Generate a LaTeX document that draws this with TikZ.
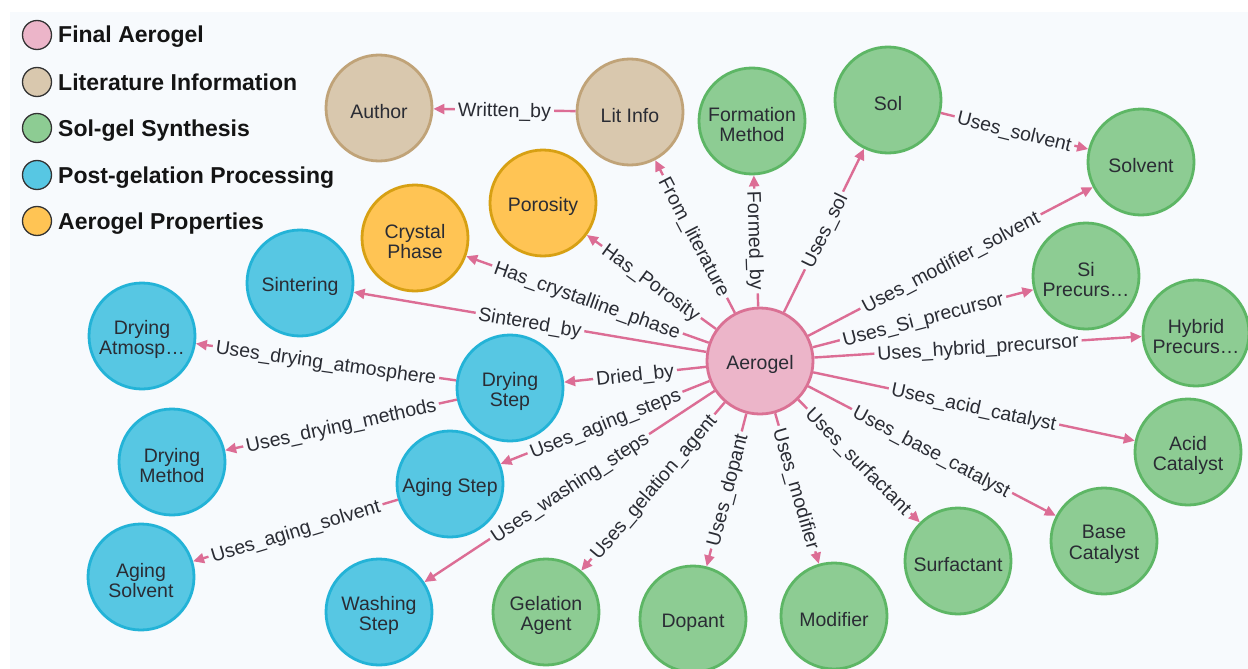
\documentclass[tikz,border=0pt]{standalone}
\usepackage{fontspec}
\setmainfont{Liberation Sans}
\usetikzlibrary{arrows.meta}
\definecolor{bg}{HTML}{F7FAFD}
\definecolor{pinkF}{HTML}{ECB5C9}\definecolor{pinkS}{HTML}{DA7194}
\definecolor{tanF}{HTML}{D9C8AE}\definecolor{tanS}{HTML}{C0A378}
\definecolor{grnF}{HTML}{8DCC93}\definecolor{grnS}{HTML}{5DB665}
\definecolor{bluF}{HTML}{57C7E3}\definecolor{bluS}{HTML}{23B3D7}
\definecolor{yelF}{HTML}{FFC454}\definecolor{yelS}{HTML}{D7A013}
\definecolor{edgeC}{HTML}{DC6D95}
\definecolor{txt}{HTML}{2A2C34}
\begin{document}
\begin{tikzpicture}[x=1pt,y=-1pt,
  gnode/.style={circle, minimum size=106pt, inner sep=0pt, line width=2.8pt},
  ntl/.style={align=center, inner sep=0pt, yshift=-3.5pt,
    font=\fontsize{19.5}{20.5}\selectfont, text=txt},
  pinkn/.style={gnode, fill=pinkF, draw=pinkS},
  tann/.style={gnode, fill=tanF, draw=tanS},
  grnn/.style={gnode, fill=grnF, draw=grnS},
  blun/.style={gnode, fill=bluF, draw=bluS},
  yeln/.style={gnode, fill=yelF, draw=yelS},
  rel/.style={draw=edgeC, line width=2.4pt, -{Triangle[length=11pt,width=10pt]}},
  lab/.style={sloped, fill=bg, inner sep=3pt, text height=14pt, text depth=0pt,
    font=\fontsize{19.5}{20}\selectfont, text=txt},
  legdot/.style={circle, minimum size=29pt, inner sep=0pt, draw=black!80, line width=1.3pt},
  legtxt/.style={anchor=base west, inner sep=0pt, font=\fontsize{23}{24}\selectfont\bfseries, text=black!92}
]
\useasboundingbox (0,0) rectangle (1248,669);
\fill[white] (0,0) rectangle (1248,669);
\fill[bg] (10,12) rectangle (1248,669);

% legend
\node[legdot, fill=pinkF] (l1) at (37,35) {};
\node[legtxt] (t1) at (58,43) {Final Aerogel};
\node[legdot, fill=tanF] (l2) at (37,82) {};
\node[legtxt] (t2) at (58,90) {Literature Information};
\node[legdot, fill=grnF] (l3) at (37,128) {};
\node[legtxt] (t3) at (58,136) {Sol-gel Synthesis};
\node[legdot, fill=bluF] (l4) at (37,175) {};
\node[legtxt] (t4) at (58,183) {Post-gelation Processing};
\node[legdot, fill=yelF] (l5) at (37,221) {};
\node[legtxt] (t5) at (58,229) {Aerogel Properties};

% nodes
\node[pinkn, label={[ntl]center:Aerogel}] (aero) at (760,361) {};
\node[tann, label={[ntl]center:Author}] (author) at (379,108) {};
\node[tann, label={[ntl]center:Lit Info}] (lit) at (630,112) {};
\node[grnn, label={[ntl]center:Formation\\Method}] (form) at (752,121) {};
\node[grnn, label={[ntl]center:Sol}] (sol) at (888,100) {};
\node[grnn, label={[ntl]center:Solvent}] (solvent) at (1141,162) {};
\node[grnn, label={[ntl]center:Si\\Precurs…}] (si) at (1086,276) {};
\node[grnn, label={[ntl]center:Hybrid\\Precurs…}] (hyb) at (1196,333) {};
\node[grnn, label={[ntl]center:Acid\\Catalyst}] (acid) at (1188,452) {};
\node[grnn, label={[ntl]center:Base\\Catalyst}] (base) at (1104,541) {};
\node[grnn, label={[ntl]center:Surfactant}] (surf) at (958,561) {};
\node[grnn, label={[ntl]center:Modifier}] (modi) at (834,616) {};
\node[grnn, label={[ntl]center:Dopant}] (dop) at (693,619) {};
\node[grnn, label={[ntl]center:Gelation\\Agent}] (gel) at (546,612) {};
\node[blun, label={[ntl]center:Washing\\Step}] (wash) at (379,612) {};
\node[blun, label={[ntl]center:Aging Step}] (aging) at (450,484) {};
\node[blun, label={[ntl]center:Aging\\Solvent}] (agsolv) at (141,577) {};
\node[blun, label={[ntl]center:Drying\\Step}] (dstep) at (510,388) {};
\node[blun, label={[ntl]center:Drying\\Method}] (dmeth) at (172,462) {};
\node[blun, label={[ntl]center:Drying\\Atmosp…}] (datm) at (142,336) {};
\node[blun, label={[ntl]center:Sintering}] (sint) at (300,283) {};
\node[yeln, label={[ntl]center:Crystal\\Phase}] (cryst) at (415,238) {};
\node[yeln, label={[ntl]center:Porosity}] (poro) at (543,203) {};

% relationships
\draw[rel] (lit) -- node[lab]{Written\_by} (author);
\draw[rel] (aero) -- node[lab]{From\_literature} (lit);
\draw[rel] (aero) -- node[lab]{Formed\_by} (form);
\draw[rel] (aero) -- node[lab]{Uses\_sol} (sol);
\draw[rel] (sol) -- node[lab]{Uses\_solvent} (solvent);
\draw[rel] (aero) -- node[lab]{Uses\_modifier\_solvent} (solvent);
\draw[rel] (aero) -- node[lab]{Uses\_Si\_precursor} (si);
\draw[rel] (aero) -- node[lab]{Uses\_hybrid\_precursor} (hyb);
\draw[rel] (aero) -- node[lab]{Uses\_acid\_catalyst} (acid);
\draw[rel] (aero) -- node[lab]{Uses\_base\_catalyst} (base);
\draw[rel] (aero) -- node[lab]{Uses\_surfactant} (surf);
\draw[rel] (aero) -- node[lab]{Uses\_modifier} (modi);
\draw[rel] (aero) -- node[lab]{Uses\_dopant} (dop);
\draw[rel] (aero) -- node[lab]{Uses\_gelation\_agent} (gel);
\draw[rel] (aero) -- node[lab]{Uses\_washing\_steps} (wash);
\draw[rel] (aero) -- node[lab]{Uses\_aging\_steps} (aging);
\draw[rel] (aging) -- node[lab]{Uses\_aging\_solvent} (agsolv);
\draw[rel] (aero) -- node[lab]{Dried\_by} (dstep);
\draw[rel] (dstep) -- node[lab]{Uses\_drying\_methods} (dmeth);
\draw[rel] (dstep) -- node[lab]{Uses\_drying\_atmosphere} (datm);
\draw[rel] (aero) -- node[lab]{Sintered\_by} (sint);
\draw[rel] (aero) -- node[lab]{Has\_crystalline\_phase} (cryst);
\draw[rel] (aero) -- node[lab]{Has\_Porosity} (poro);
\end{tikzpicture}
\end{document}
